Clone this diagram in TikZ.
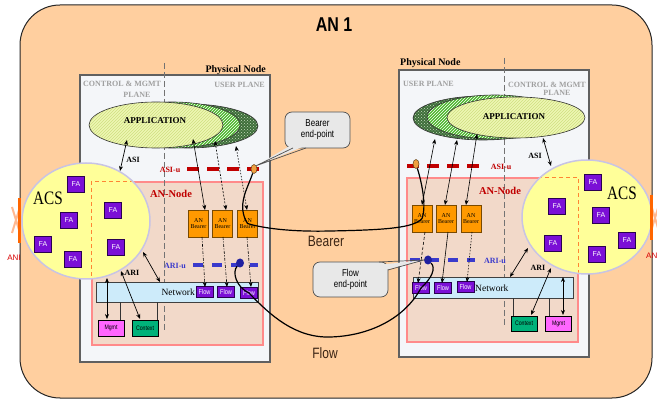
\documentclass[tikz,border=0pt]{standalone}
\usepackage{graphicx}
\usepackage{fontspec}
\setmainfont{Liberation Serif}
\setsansfont{Liberation Sans}
\usetikzlibrary{arrows.meta,patterns,shapes.geometric}
\newcommand\myhsq[1]{\scalebox{0.8}[1]{#1}}
\definecolor{bgor}{HTML}{FFCF9F}
\definecolor{physfill}{HTML}{F4F6F9}
\definecolor{physdraw}{HTML}{606060}
\definecolor{annfill}{HTML}{F2D9C9}
\definecolor{anndraw}{HTML}{FF8A8A}
\definecolor{acsfill}{HTML}{FFFF99}
\definecolor{acsdraw}{HTML}{C8C4E4}
\definecolor{fafill}{HTML}{7B0FD6}
\definecolor{fadraw}{HTML}{2A0050}
\definecolor{bearfill}{HTML}{FF9900}
\definecolor{beardraw}{HTML}{7A4A00}
\definecolor{netfill}{HTML}{CDEBFA}
\definecolor{mgmtfill}{HTML}{FF66FF}
\definecolor{ctxfill}{HTML}{00B27A}
\definecolor{redd}{HTML}{C00000}
\definecolor{bluu}{HTML}{3A3ACC}
\definecolor{bluedot}{HTML}{2020A0}
\definecolor{ordot}{HTML}{F0A040}
\definecolor{callfill}{HTML}{E8E8E8}
\definecolor{calldraw}{HTML}{505050}
\definecolor{planegray}{HTML}{A0A0A0}
\definecolor{appfill}{HTML}{EEF6B4}
\definecolor{apphatch}{HTML}{CFE080}
\definecolor{grnfill}{HTML}{4DB82E}
\definecolor{dkfill}{HTML}{3E6E3A}
\definecolor{dkdots}{HTML}{C8DCC0}
\definecolor{anicol}{HTML}{FF6600}
\definecolor{anipale}{HTML}{FFB890}
\definecolor{labbrown}{HTML}{3A2414}
\begin{document}
\begin{tikzpicture}[x=1pt,y=-1pt,
  phys/.style={draw=physdraw, line width=2.5pt, fill=physfill, inner sep=0pt},
  annode/.style={draw=anndraw, line width=1.2pt, fill=annfill, inner sep=0pt},
  acs/.style={ellipse, draw=acsdraw, line width=1.5pt, fill=acsfill, inner sep=0pt},
  fa/.style={draw=fadraw, fill=fafill, text=white, line width=0.6pt, minimum width=17pt, minimum height=16pt, inner sep=0pt, font=\sffamily\fontsize{7}{8}\selectfont},
  bear/.style={draw=beardraw, fill=bearfill, line width=0.6pt, minimum width=20pt, minimum height=27pt, inner sep=0pt, align=center, font=\fontsize{6}{6.5}\selectfont},
  flowb/.style={draw=fadraw, fill=fafill, text=white, line width=0.6pt, minimum width=17pt, minimum height=11pt, inner sep=0pt, font=\sffamily\fontsize{7}{8}\selectfont},
  net/.style={draw=black!75, fill=netfill, line width=0.8pt, inner sep=0pt},
  smallbox/.style={draw=black, line width=0.6pt, minimum width=26pt, minimum height=16pt, inner sep=0pt, font=\sffamily\fontsize{6.5}{7}\selectfont},
  planelbl/.style={inner sep=0pt, text=planegray, font=\bfseries\fontsize{8}{9}\selectfont},
  app/.style={ellipse, inner sep=0pt, draw=black!80, line width=0.6pt},
  dar/.style={{Stealth[length=5pt,width=4pt]}-{Stealth[length=5pt,width=4pt]}, line width=0.7pt},
  sar/.style={-{Stealth[length=5pt,width=4pt]}, line width=0.6pt},
  conn/.style={line width=1.2pt, black},
  callout/.style={draw=calldraw, fill=callfill, line width=0.7pt, rounded corners=7pt, inner sep=0pt, align=center, font=\sffamily\fontsize{10}{11}\selectfont},
  asiu/.style={redd, line width=4pt, dash pattern=on 12pt off 8pt},
  ariu/.style={bluu, line width=3.5pt, dash pattern=on 10pt off 9pt},
  redlbl/.style={inner sep=0pt, text=redd, font=\bfseries\fontsize{8}{9}\selectfont},
  bluelbl/.style={inner sep=0pt, text=bluu, font=\bfseries\fontsize{8}{9}\selectfont},
]
\useasboundingbox (0,0) rectangle (657,401);
\fill[white] (0,0) rectangle (657,401);

% background AN 1
\node[draw=black!85, line width=1pt, fill=bgor, rounded corners=40pt, minimum width=632pt, minimum height=393pt, inner sep=0pt] (bg) at (336,201.5) {};
\node[inner sep=0pt, font=\sffamily\bfseries\fontsize{20}{22}\selectfont] (title) at (334,25) {\myhsq{AN 1}};

% physical nodes
\node[phys, minimum width=190pt, minimum height=287pt] (lphys) at (175,218.5) {};
\node[phys, minimum width=190pt, minimum height=287pt] (rphys) at (494,213.5) {};
\node[inner sep=0pt, anchor=base east, font=\bfseries\fontsize{10}{11}\selectfont] (lpn) at (266,73) {Physical Node};
\node[inner sep=0pt, anchor=base west, font=\bfseries\fontsize{10}{11}\selectfont] (rpn) at (400,66) {Physical Node};
\node[planelbl, anchor=base west] (lcm1) at (83,87) {CONTROL \& MGMT};
\node[planelbl, anchor=base] (lcm2) at (137,98) {PLANE};
\node[planelbl, anchor=base east] (lup) at (265,88) {USER PLANE};
\node[planelbl, anchor=base east] (rcm1) at (586,88) {CONTROL \& MGMT};
\node[planelbl, anchor=base] (rcm2) at (557,96) {PLANE};
\node[planelbl, anchor=base west] (rup) at (403,87) {USER PLANE};

% AN-Node boxes
\node[annode, minimum width=171pt, minimum height=163pt] (lan) at (177.5,263.5) {};
\node[annode, minimum width=171pt, minimum height=164pt] (ran) at (492.5,260) {};

% plane separators
\draw[black!55, line width=0.8pt, dash pattern=on 6pt off 3pt] (164,63) -- (164,330);
\draw[black!55, line width=0.8pt, dash pattern=on 6pt off 3pt] (504,58) -- (504,325);

% application ellipses
\node[app, minimum width=140pt, minimum height=44pt, preaction={fill=dkfill}, pattern=crosshatch dots, pattern color=dkdots] (ldk) at (188,126) {};
\node[app, minimum width=136pt, minimum height=46pt, preaction={fill=grnfill}, pattern=north east lines, pattern color=white] (lgr) at (172,125) {};
\node[app, minimum width=134pt, minimum height=46pt, preaction={fill=appfill}, pattern=north east lines, pattern color=apphatch] (lapp) at (156,125) {};
\node[inner sep=0pt, font=\bfseries\fontsize{9}{10}\selectfont] (lapptxt) at (155,121) {APPLICATION};
\node[app, minimum width=140pt, minimum height=44pt, preaction={fill=dkfill}, pattern=crosshatch dots, pattern color=dkdots] (rdk) at (483,118) {};
\node[app, minimum width=136pt, minimum height=44pt, preaction={fill=grnfill}, pattern=north east lines, pattern color=white] (rgr) at (495,117) {};
\node[app, minimum width=138pt, minimum height=41pt, preaction={fill=appfill}, pattern=north east lines, pattern color=apphatch] (rapp) at (516,117.5) {};
\node[inner sep=0pt, font=\bfseries\fontsize{9}{10}\selectfont] (rapptxt) at (514,117) {APPLICATION};

% AN-Node labels
\node[inner sep=0pt, text=redd, font=\bfseries\fontsize{10.5}{11}\selectfont] (lanl) at (171,194) {AN-Node};
\node[inner sep=0pt, text=redd, font=\bfseries\fontsize{10.5}{11}\selectfont] (ranl) at (500,191) {AN-Node};

% ACS circles
\node[acs, minimum width=128pt, minimum height=116pt] (lacs) at (86,221) {};
\node[acs, minimum width=130pt, minimum height=114pt] (racs) at (587,217) {};
\begin{scope}
\clip (86,221) ellipse [x radius=63pt, y radius=57pt];
\draw[anicol!80, line width=1pt, dash pattern=on 4pt off 3pt] (lan.north west) rectangle (lan.south east);
\end{scope}
\begin{scope}
\clip (587,217) ellipse [x radius=64pt, y radius=56pt];
\draw[anicol!80, line width=1pt, dash pattern=on 4pt off 3pt] (ran.north west) rectangle (ran.south east);
\end{scope}
\node[inner sep=0pt, font=\fontsize{19}{20}\selectfont] (lacsl) at (48,198) {\myhsq{ACS}};
\node[inner sep=0pt, font=\fontsize{19}{20}\selectfont] (racsl) at (622,193) {\myhsq{ACS}};
\foreach \p [count=\i] in {(76,184),(69,220),(43,244),(73,259),(113,210),(116,247)}
  \node[fa] (lfa\i) at \p {FA};
\foreach \p [count=\i] in {(593,182),(557,206),(601,215),(627,240),(553,243),(597,254)}
  \node[fa] (rfa\i) at \p {FA};

% ANI
\draw[anipale, line width=2pt] (12,207) -- (20,233) (12,233) -- (20,207);
\draw[anicol, line width=3pt] (19,198) -- (19,243);
\node[inner sep=0pt, text=red!85!black, font=\sffamily\fontsize{8}{9}\selectfont] (lani) at (14,258) {ANI};
\draw[anipale, line width=2pt] (651,205) -- (659,231) (651,231) -- (659,205);
\draw[anicol, line width=3pt] (651,195) -- (651,240);
\node[inner sep=0pt, anchor=west, text=red!85!black, font=\sffamily\fontsize{8}{9}\selectfont] (rani) at (646,256) {ANI};

% network bars
\node[net, minimum width=162pt, minimum height=20pt] (lnet) at (177,292) {};
\node[net, minimum width=160pt, minimum height=21pt] (rnet) at (493,287.5) {};
\node[inner sep=0pt, anchor=east, font=\fontsize{9.5}{10}\selectfont] (lnett) at (195,292) {Network};
\node[inner sep=0pt, anchor=west, font=\fontsize{9.5}{10}\selectfont] (rnett) at (475,288) {Network};
\node[flowb] (lf1) at (204.5,292) {\myhsq{Flow}};
\node[flowb] (lf2) at (226,292) {\myhsq{Flow}};
\node[flowb] (lf3) at (249,293) {\myhsq{Flow}};
\node[flowb] (rf1) at (421,288) {\myhsq{Flow}};
\node[flowb] (rf2) at (443,288) {\myhsq{Flow}};
\node[flowb] (rf3) at (465.5,287) {\myhsq{Flow}};

% mgmt / context
\node[smallbox, fill=mgmtfill] (lmg) at (111,328) {\myhsq{Mgmt}};
\node[smallbox, fill=ctxfill] (lctx) at (145,328) {\myhsq{Context}};
\node[smallbox, fill=ctxfill, minimum height=15pt] (rctx) at (524,323.5) {\myhsq{Context}};
\node[smallbox, fill=mgmtfill, minimum height=15pt] (rmg) at (558.5,323.5) {\myhsq{Mgmt}};
\draw[black!80, line width=0.7pt] (lnet.south -| 120,0) -- (lmg.north -| 120,0);
\draw[black!80, line width=0.7pt] (lnet.south -| 157,0) -- (lctx.north -| 157,0);
\draw[black!80, line width=0.7pt] (rnet.south -| 513,0) -- (rctx.north -| 513,0);
\draw[black!80, line width=0.7pt] (rnet.south -| 549,0) -- (rmg.north -| 549,0);

% bearers
\node[bear] (lb1) at (198.5,223.5) {AN\\Bearer};
\node[bear] (lb2) at (222.5,223.5) {AN\\Bearer};
\node[bear] (lb3) at (247.5,223.5) {AN\\Bearer};
\node[bear] (rb1) at (422,218.5) {AN\\Bearer};
\node[bear] (rb2) at (446,218.5) {AN\\Bearer};
\node[bear] (rb3) at (471,218.5) {AN\\Bearer};

% ASI-u / ARI-u
\draw[asiu] (187,169) -- (262,169);
\draw[asiu] (407,166) -- (482,166);
\node[redlbl] (lasiu) at (170,170) {ASI-u};
\node[redlbl] (rasiu) at (501,167) {ASI-u};
\draw[ariu] (193,265) -- (258,265);
\draw[ariu] (410,260) -- (475,260);
\node[bluelbl] (lariu) at (175,266) {ARI-u};
\node[bluelbl] (rariu) at (495,261) {ARI-u};

% end-point dots
\node[ellipse, draw=black!60!ordot, fill=ordot, line width=0.5pt, minimum width=6pt, minimum height=9pt, inner sep=0pt] (lod) at (254,169) {};
\node[ellipse, draw=black!60!ordot, fill=ordot, line width=0.5pt, minimum width=6pt, minimum height=9pt, inner sep=0pt] (rod) at (416,164) {};
\node[ellipse, fill=bluedot, minimum width=8pt, minimum height=9pt, inner sep=0pt] (lbd) at (240,263) {};
\node[ellipse, fill=bluedot, minimum width=8pt, minimum height=9pt, inner sep=0pt] (rbd) at (428,260) {};

% arrow end coordinates
\coordinate (lasiA) at (127,140); \coordinate (lasiB) at (120,171);
\coordinate (rasiA) at (543,138); \coordinate (rasiB) at (551,166);
\coordinate (la1a) at (143,252); \coordinate (la1b) at (160,282);
\coordinate (la2a) at (121,271); \coordinate (la2b) at (140,319);
\coordinate (la3a) at (107,278); \coordinate (la3b) at (107,319);
\coordinate (ra1a) at (528,248); \coordinate (ra1b) at (510,277);
\coordinate (ra2a) at (551,268); \coordinate (ra2b) at (531,315);
\coordinate (ra3a) at (563,277); \coordinate (ra3b) at (563,315);
\coordinate (le1) at (193,139); \coordinate (le2) at (215,141); \coordinate (le3) at (236,146);
\coordinate (lt1) at (205,210); \coordinate (lt2) at (226,210); \coordinate (lt3) at (247,210);
\coordinate (re1) at (435,139); \coordinate (re2) at (457,140); \coordinate (re3) at (477,134);
\coordinate (rt1) at (422,205); \coordinate (rt2) at (445,205); \coordinate (rt3) at (466,205);
\coordinate (lbb1) at (202,237); \coordinate (lbb2) at (223,237); \coordinate (lbb3) at (247,237);
\coordinate (lfl1) at (205,287); \coordinate (lfl2) at (227,287); \coordinate (lfl3) at (251,287);
\coordinate (rbb1) at (425,232); \coordinate (rbb2) at (448,232); \coordinate (rbb3) at (472,232);
\coordinate (rfl1) at (418,283); \coordinate (rfl2) at (442,283); \coordinate (rfl3) at (467,282);

% ASI / ARI arrows
\draw[dar] (lasiA) -- (lasiB);
\draw[dar] (rasiA) -- (rasiB);
\node[inner sep=0pt, font=\bfseries\fontsize{8}{9}\selectfont] (lasil) at (133,160) {ASI};
\node[inner sep=0pt, font=\bfseries\fontsize{8}{9}\selectfont] (rasil) at (535,156) {ASI};
\draw[dar] (la1a) -- (la1b);
\draw[dar] (la2a) -- (la2b);
\draw[dar] (la3a) -- (la3b);
\draw[dar] (ra1a) -- (ra1b);
\draw[dar] (ra2a) -- (ra2b);
\draw[dar] (ra3a) -- (ra3b);
\node[inner sep=0pt, font=\bfseries\fontsize{8}{9}\selectfont] (laril) at (132,273) {ARI};
\node[inner sep=0pt, font=\bfseries\fontsize{8}{9}\selectfont] (raril) at (538,268) {ARI};

% bearer - application arrows
\draw[dar, line width=0.6pt] (lt1) -- (le1);
\draw[dar, line width=0.6pt, dash pattern=on 2pt off 1.5pt] (lt2) -- (le2);
\draw[dar, line width=0.6pt, dash pattern=on 1.5pt off 1.5pt] (lt3) -- (le3);
\draw[dar, line width=0.6pt] (rt1) -- (re1);
\draw[dar, line width=0.6pt] (rt2) -- (re2);
\draw[dar, line width=0.6pt] (rt3) -- (re3);

% bearer - flow arrows
\draw[sar, dash pattern=on 3pt off 1.5pt on 1pt off 1.5pt] (lbb1) -- (lfl1);
\draw[sar, dash pattern=on 3pt off 1.5pt on 1pt off 1.5pt] (lbb2) -- (lfl2);
\draw[sar, dash pattern=on 3pt off 1.5pt on 1pt off 1.5pt] (lbb3) -- (lfl3);
\draw[sar, dash pattern=on 3pt off 2pt] (rbb1) -- (rfl1);
\draw[sar] (rbb2) -- (rfl2);
\draw[sar, dash pattern=on 1.5pt off 1.5pt] (rbb3) -- (rfl3);

% bearer and flow connectors
\draw[conn] (lod) .. controls (248,188) and (236,205) .. (lb3.center)
  .. controls (262,228) and (290,232) .. (330,231)
  .. controls (385,230) and (414,228) .. (rb1.center)
  .. controls (427,205) and (421,180) .. (rod);
\draw[conn] (lbd) .. controls (232,272) and (236,287) .. (lf3.center)
  .. controls (270,315) and (295,338) .. (330,337)
  .. controls (370,336) and (405,318) .. (rf1.center)
  .. controls (432,278) and (436,268) .. (rbd);
\node[inner sep=0pt, text=labbrown, font=\sffamily\fontsize{15}{16}\selectfont] (bearl) at (326,241) {\myhsq{Bearer}};
\node[inner sep=0pt, text=labbrown, font=\sffamily\fontsize{15}{16}\selectfont] (flowl) at (325,353) {\myhsq{Flow}};

% callouts
\node[callout, minimum width=65pt, minimum height=36pt] (cb) at (317.5,130) {\myhsq{Bearer}\\\myhsq{end-point}};
\fill[callfill] (293,144) -- (lod.north east) -- (306,145.5) -- cycle;
\draw[calldraw, line width=0.7pt] (293,148) -- (lod.north east) -- (306,148);
\node[callout, minimum width=75pt, minimum height=35pt] (cf) at (350.5,279.5) {\myhsq{Flow}\\\myhsq{end-point}};
\fill[callfill] (378,265) -- (rbd.west) -- (385,270) -- (380,268) -- cycle;
\draw[calldraw, line width=0.7pt] (379,262) -- (rbd.west) -- (388,270);
\end{tikzpicture}
\end{document}
